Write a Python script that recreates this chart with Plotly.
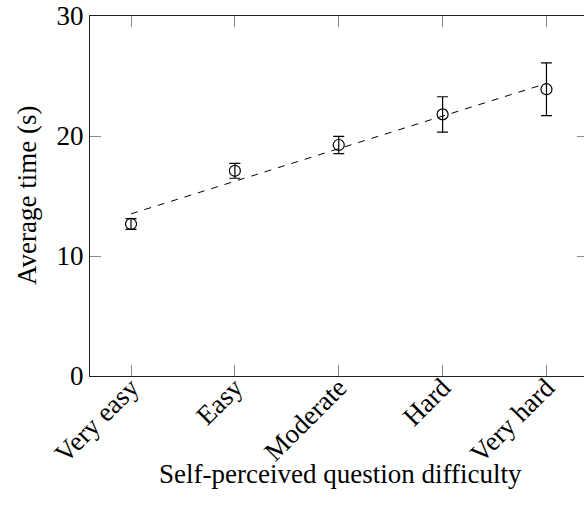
import numpy as np
import plotly.graph_objects as go

categories = ["Very easy", "Easy", "Moderate", "Hard", "Very hard"]
mean_time = [12.67, 17.1, 19.25, 21.8, 23.9]
err_time = [0.45, 0.62, 0.72, 1.47, 2.2]
y_ticks = [0, 10, 20, 30]

x_idx = list(range(len(categories)))
slope, intercept = np.polyfit(x_idx, mean_time, 1)
trend = [slope * i + intercept for i in x_idx]

FONT = "Liberation Serif"
FS = 27

# figure is slightly wider than the window so the right frame falls just outside, as in the reference
W, H = 588, 516
L, T, B, R = 90, 16, 140, 0
plot_w = W - L - R
plot_h = H - T - B

fig = go.Figure()
fig.add_trace(go.Scatter(
    x=x_idx, y=trend, mode="lines",
    line=dict(color="black", width=1, dash="7px,7px"),
    hoverinfo="skip", showlegend=False,
))
fig.add_trace(go.Scatter(
    x=x_idx, y=mean_time, mode="markers",
    marker=dict(symbol="circle-open", size=11, color="black", line=dict(width=1.2, color="black")),
    error_y=dict(type="data", array=err_time, visible=True, color="black", thickness=1.2, width=5.5),
    showlegend=False,
))

fig.add_annotation(
    text="Average time (s)", xref="paper", yref="paper",
    x=(27 - L) / plot_w, y=0.5, xanchor="center", yanchor="middle",
    textangle=-90, showarrow=False, font=dict(family=FONT, size=FS, color="black"),
)
fig.add_annotation(
    text="Self-perceived question difficulty", xref="paper", yref="paper",
    x=(340 - L) / plot_w, y=-(474 - (T + plot_h)) / plot_h, xanchor="center", yanchor="middle",
    showarrow=False, font=dict(family=FONT, size=FS, color="black"),
)

fig.update_layout(
    width=W, height=H,
    margin=dict(l=L, r=R, t=T, b=B, autoexpand=False),
    paper_bgcolor="white", plot_bgcolor="white",
    font=dict(family=FONT, size=FS, color="black"),
    xaxis=dict(
        range=[-0.395, 4.4], automargin=False,
        tickmode="array", tickvals=x_idx, ticktext=categories,
        tickangle=-45, ticklabelstandoff=-16,
        ticks="inside", ticklen=11, tickcolor="#8a8a8a", tickwidth=1,
        showline=True, linecolor="#222", linewidth=1, mirror="ticks",
        showgrid=False, zeroline=False, ticklabeloverflow="allow",
        tickfont=dict(family=FONT, size=FS, color="black"),
    ),
    yaxis=dict(
        range=[0, 30], automargin=False,
        tickmode="array", tickvals=y_ticks, ticktext=[str(v) for v in y_ticks],
        ticks="inside", ticklen=11, tickcolor="#8a8a8a", tickwidth=1,
        showline=True, linecolor="#222", linewidth=1, mirror="ticks",
        showgrid=False, zeroline=False, ticklabeloverflow="allow",
        tickfont=dict(family=FONT, size=FS, color="black"),
    ),
)

fig.write_html(
    "out.html",
    config={"displayModeBar": False},
    post_script="document.body.style.margin='0';document.body.style.overflow='hidden';",
)
